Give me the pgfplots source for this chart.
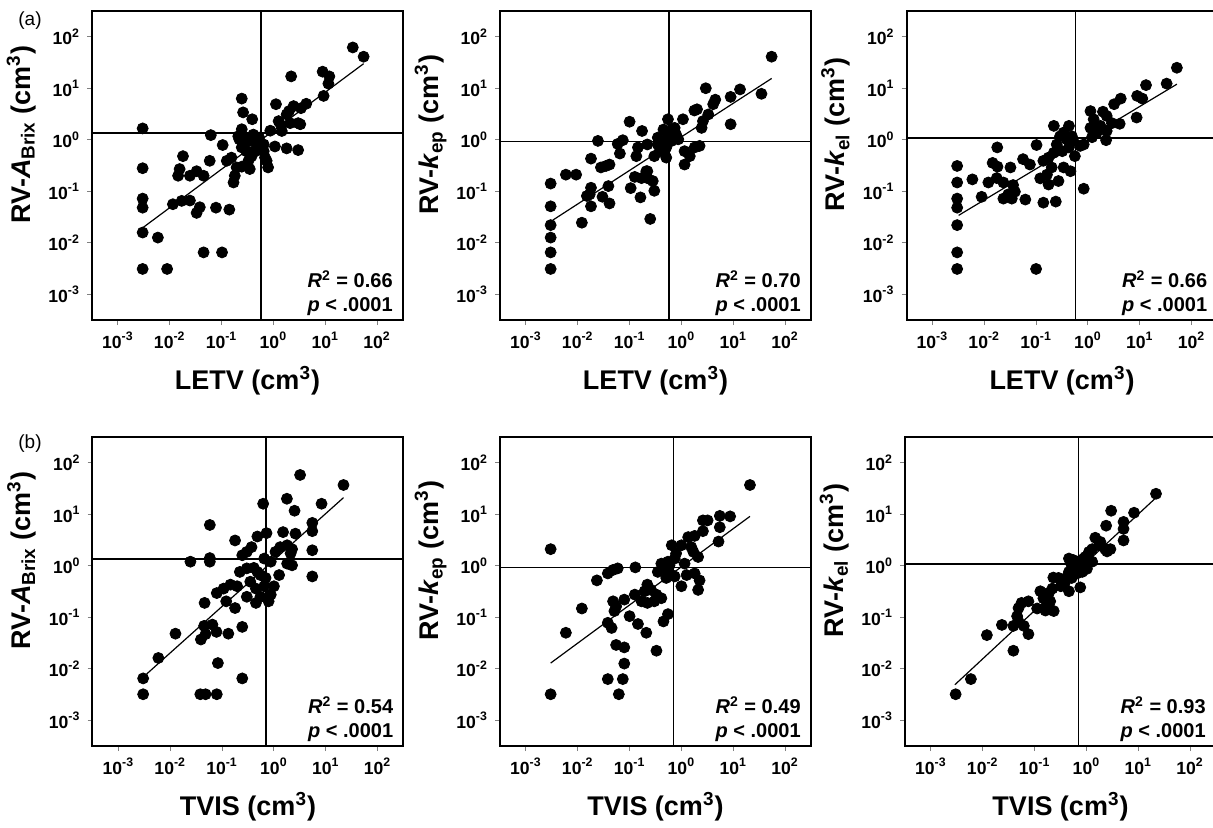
\documentclass[border=0pt]{standalone}
\usepackage{fontspec}
\setmainfont{Liberation Sans}
\usepackage{pgfplots}
\pgfplotsset{compat=1.18}
\pgfplotsset{
  tick align=outside,
  major tick length=2.5pt,
  every tick/.append style={gray, line width=0.5pt},
  axis line style={line width=1pt},
  tick label style={font=\fontsize{8.8}{10}\selectfont},
  label style={font=\fontsize{13.5}{15}\selectfont\bfseries},
  xlabel style={at={(axis description cs:0.5,-0.225)}, anchor=base},
  ylabel style={at={(axis description cs:-0.198,0.6)}, anchor=base},
}
\begin{document}
\begin{tikzpicture}
\useasboundingbox (0pt,0pt) rectangle (606.5pt,413.5pt);
\clip (0pt,0pt) rectangle (606.5pt,413.5pt);
\node[font=\fontsize{9.5}{11}\selectfont] at (15pt,403pt) {(a)};
\node[font=\fontsize{9.5}{11}\selectfont] at (15pt,191.5pt) {(b)};

% ---------- Panel 1 ----------
\begin{axis}[scale only axis, width=155.5pt, height=154.5pt, anchor=south west, at={(46pt,253.5pt)},
  xmode=log, ymode=log, xmin=3.1623e-4, xmax=316.23, ymin=3.1623e-4, ymax=316.23,
  xtick={1e-3,1e-2,1e-1,1,10,100}, ytick={1e-3,1e-2,1e-1,1,10,100},
  xticklabels={\textbf{10\textsuperscript{-3}},\textbf{10\textsuperscript{-2}},\textbf{10\textsuperscript{-1}},\textbf{10\textsuperscript{0}},\textbf{10\textsuperscript{1}},\textbf{10\textsuperscript{2}}},
  yticklabels={\textbf{10\textsuperscript{-3}},\textbf{10\textsuperscript{-2}},\textbf{10\textsuperscript{-1}},\textbf{10\textsuperscript{0}},\textbf{10\textsuperscript{1}},\textbf{10\textsuperscript{2}}},
  xminorticks=false, yminorticks=false, xtick pos=left, ytick pos=left,
  xlabel={LETV (cm\textsuperscript{3})},
  ylabel={RV-\textit{A}\textsubscript{Brix} (cm\textsuperscript{3})}]
\addplot[black, line width=0.8pt, no marks] coordinates {(0.58,1e-4) (0.58,1e3)};
\addplot[black, line width=0.8pt, no marks] coordinates {(1e-4,1.35) (1e3,1.35)};
\addplot[only marks, mark=*, mark size=2.75pt, mark options={fill=black, draw=black}] coordinates {
(34,62) (55,41) (8.9,21) (2.2,17) (12,17) (11.5,12.3) (9.3,7.1) (4.3,5.0) (1.12,4.9) (2.45,4.5)
(2.0,3.6) (1.8,3.1) (3.4,4.1) (0.245,6.3) (0.26,3.4) (0.39,2.5) (1.26,2.3) (0.87,1.5) (1.4,1.9) (2.1,2.1)
(3.0,2.1) (3.3,2.0) (0.003,1.66) (0.062,1.23) (0.105,0.79) (0.245,1.6) (0.22,1.02) (0.30,1.1) (0.35,0.95) (0.41,1.26)
(0.48,0.81) (0.55,0.71) (0.245,0.71) (0.30,0.60) (0.38,0.48) (0.69,0.45) (0.79,0.29) (0.35,0.27) (0.245,0.30) (1.07,0.74)
(1.8,0.68) (3.0,0.63) (0.018,0.48) (0.059,0.39) (0.126,0.39) (0.155,0.45) (0.0155,0.27) (0.0145,0.20) (0.0245,0.20) (0.033,0.245)
(0.045,0.20) (0.18,0.20) (0.17,0.148) (0.003,0.28) (0.003,0.072) (0.003,0.048) (0.0115,0.056) (0.017,0.065) (0.0245,0.066) (0.038,0.049)
(0.033,0.038) (0.078,0.048) (0.141,0.044) (0.003,0.0158) (0.0059,0.0126) (0.045,0.0065) (0.102,0.0065) (0.003,0.0031) (0.0089,0.0031)
(0.21,1.17) (0.28,0.87) (0.45,0.60) (0.51,1.02) (0.65,0.60) (0.33,0.39) (0.195,0.29) (0.65,0.81) (1.45,1.48) (0.53,1.1) (0.74,0.39)
};
\addplot[black, line width=0.6pt, no marks] coordinates {(0.003,0.0195) (55,30)};
\node[anchor=base east, inner sep=0pt, font=\fontsize{10}{12}\selectfont\bfseries] at (rel axis cs:0.968,0.105) {\textit{R}\textsuperscript{2} = 0.66};
\node[anchor=base east, inner sep=0pt, font=\fontsize{10}{12}\selectfont\bfseries] at (rel axis cs:0.968,0.028) {\textit{p} < .0001};
\end{axis}

% ---------- Panel 2 ----------
\begin{axis}[scale only axis, width=155.5pt, height=154.5pt, anchor=south west, at={(250pt,253.5pt)},
  xmode=log, ymode=log, xmin=3.1623e-4, xmax=316.23, ymin=3.1623e-4, ymax=316.23,
  xtick={1e-3,1e-2,1e-1,1,10,100}, ytick={1e-3,1e-2,1e-1,1,10,100},
  xticklabels={\textbf{10\textsuperscript{-3}},\textbf{10\textsuperscript{-2}},\textbf{10\textsuperscript{-1}},\textbf{10\textsuperscript{0}},\textbf{10\textsuperscript{1}},\textbf{10\textsuperscript{2}}},
  yticklabels={\textbf{10\textsuperscript{-3}},\textbf{10\textsuperscript{-2}},\textbf{10\textsuperscript{-1}},\textbf{10\textsuperscript{0}},\textbf{10\textsuperscript{1}},\textbf{10\textsuperscript{2}}},
  xminorticks=false, yminorticks=false, xtick pos=left, ytick pos=left,
  xlabel={LETV (cm\textsuperscript{3})},
  ylabel={RV-\textit{k}\textsubscript{ep} (cm\textsuperscript{3})}]
\addplot[black, line width=0.8pt, no marks] coordinates {(0.58,1e-4) (0.58,1e3)};
\addplot[black, line width=0.8pt, no marks] coordinates {(1e-4,0.92) (1e3,0.92)};
\addplot[only marks, mark=*, mark size=2.75pt, mark options={fill=black, draw=black}] coordinates {
(55,41) (2.95,10) (8.9,6.8) (13.5,9.5) (35,7.8) (4.5,6.0) (4.1,4.9) (1.78,3.7) (2.0,3.9) (3.3,3.1)
(2.6,2.3) (2.45,1.7) (8.9,2.0) (1.07,2.5) (0.55,2.5) (0.74,1.7) (0.45,1.58) (0.79,1.26) (0.10,2.24) (0.174,1.48)
(0.0245,0.95) (0.074,0.98) (0.059,0.83) (0.145,0.71) (0.22,0.81) (0.35,1.1) (0.41,0.95) (0.51,0.71) (0.38,0.60) (0.51,0.45)
(0.30,0.48) (0.65,0.95) (0.87,1.02) (1.15,0.60) (1.8,0.71) (2.24,0.76) (1.45,0.48) (1.15,0.33) (0.018,0.43) (0.028,0.29)
(0.035,0.31) (0.041,0.33) (0.065,0.54) (0.135,0.48) (0.0059,0.21) (0.0093,0.21) (0.003,0.141) (0.018,0.117) (0.017,0.087) (0.039,0.126)
(0.015,0.081) (0.030,0.078) (0.041,0.058) (0.105,0.115) (0.126,0.19) (0.17,0.18) (0.21,0.245) (0.22,0.18) (0.28,0.158) (0.30,0.102)
(0.162,0.076) (0.018,0.051) (0.003,0.051) (0.012,0.0245) (0.25,0.029) (0.003,0.022) (0.003,0.0126) (0.003,0.0065) (0.003,0.0031)
(0.35,0.81) (0.45,0.60) (0.55,1.26) (0.22,0.245)
};
\addplot[black, line width=0.6pt, no marks] coordinates {(0.0033,0.0275) (55,15.5)};
\node[anchor=base east, inner sep=0pt, font=\fontsize{10}{12}\selectfont\bfseries] at (rel axis cs:0.968,0.105) {\textit{R}\textsuperscript{2} = 0.70};
\node[anchor=base east, inner sep=0pt, font=\fontsize{10}{12}\selectfont\bfseries] at (rel axis cs:0.968,0.028) {\textit{p} < .0001};
\end{axis}

% ---------- Panel 3 ----------
\begin{axis}[scale only axis, width=155.5pt, height=154.5pt, anchor=south west, at={(453.25pt,253.5pt)},
  xmode=log, ymode=log, xmin=3.1623e-4, xmax=316.23, ymin=3.1623e-4, ymax=316.23,
  xtick={1e-3,1e-2,1e-1,1,10,100}, ytick={1e-3,1e-2,1e-1,1,10,100},
  xticklabels={\textbf{10\textsuperscript{-3}},\textbf{10\textsuperscript{-2}},\textbf{10\textsuperscript{-1}},\textbf{10\textsuperscript{0}},\textbf{10\textsuperscript{1}},\textbf{10\textsuperscript{2}}},
  yticklabels={\textbf{10\textsuperscript{-3}},\textbf{10\textsuperscript{-2}},\textbf{10\textsuperscript{-1}},\textbf{10\textsuperscript{0}},\textbf{10\textsuperscript{1}},\textbf{10\textsuperscript{2}}},
  xminorticks=false, yminorticks=false, xtick pos=left, ytick pos=left,
  xlabel={LETV (cm\textsuperscript{3})},
  ylabel={RV-\textit{k}\textsubscript{el} (cm\textsuperscript{3})}]
\addplot[black, line width=0.8pt, no marks] coordinates {(0.58,1e-4) (0.58,1e3)};
\addplot[black, line width=0.8pt, no marks] coordinates {(1e-4,1.08) (1e3,1.08)};
\addplot[only marks, mark=*, mark size=2.75pt, mark options={fill=black, draw=black}] coordinates {
(52,25) (33,12.3) (13.2,11.5) (8.9,7.1) (11.2,6.3) (4.3,6.3) (3.2,4.9) (8.7,2.7) (1.12,3.6) (1.95,3.5)
(2.3,2.9) (1.29,2.5) (1.74,1.86) (1.12,1.7) (4.1,2.04) (2.9,2.1) (2.3,1.48) (2.24,0.98) (1.48,1.38) (1.2,1.12)
(0.22,1.86) (0.43,1.86) (0.34,1.38) (0.29,1.17) (0.39,1.02) (0.49,1.17) (0.52,0.95) (0.71,0.76) (0.83,0.81) (0.43,0.71)
(0.25,0.81) (0.32,0.60) (0.22,0.56) (0.56,0.48) (0.102,0.79) (0.056,0.42) (0.076,0.33) (0.138,0.39) (0.174,0.45) (0.20,0.29)
(0.162,0.21) (0.12,0.178) (0.174,0.135) (0.27,0.158) (0.34,0.29) (0.46,0.245) (0.83,0.112) (0.0178,0.71) (0.0145,0.355) (0.018,0.30)
(0.032,0.29) (0.0174,0.18) (0.012,0.148) (0.0234,0.148) (0.036,0.132) (0.039,0.098) (0.029,0.087) (0.0234,0.072) (0.034,0.072) (0.062,0.069)
(0.003,0.31) (0.003,0.148) (0.0059,0.17) (0.003,0.072) (0.003,0.048) (0.0089,0.078) (0.138,0.060) (0.24,0.063) (0.003,0.022) (0.003,0.0065)
(0.003,0.0031) (0.10,0.0031)
};
\addplot[black, line width=0.6pt, no marks] coordinates {(0.0032,0.034) (52,12)};
\node[anchor=base east, inner sep=0pt, font=\fontsize{10}{12}\selectfont\bfseries] at (rel axis cs:0.968,0.105) {\textit{R}\textsuperscript{2} = 0.66};
\node[anchor=base east, inner sep=0pt, font=\fontsize{10}{12}\selectfont\bfseries] at (rel axis cs:0.968,0.028) {\textit{p} < .0001};
\end{axis}

% ---------- Panel 4 ----------
\begin{axis}[scale only axis, width=155.5pt, height=154.5pt, anchor=south west, at={(46.25pt,40.5pt)},
  xmode=log, ymode=log, xmin=3.1623e-4, xmax=316.23, ymin=3.1623e-4, ymax=316.23,
  xtick={1e-3,1e-2,1e-1,1,10,100}, ytick={1e-3,1e-2,1e-1,1,10,100},
  xticklabels={\textbf{10\textsuperscript{-3}},\textbf{10\textsuperscript{-2}},\textbf{10\textsuperscript{-1}},\textbf{10\textsuperscript{0}},\textbf{10\textsuperscript{1}},\textbf{10\textsuperscript{2}}},
  yticklabels={\textbf{10\textsuperscript{-3}},\textbf{10\textsuperscript{-2}},\textbf{10\textsuperscript{-1}},\textbf{10\textsuperscript{0}},\textbf{10\textsuperscript{1}},\textbf{10\textsuperscript{2}}},
  xminorticks=false, yminorticks=false, xtick pos=left, ytick pos=left,
  xlabel={TVIS (cm\textsuperscript{3})},
  ylabel={RV-\textit{A}\textsubscript{Brix} (cm\textsuperscript{3})}]
\addplot[black, line width=0.8pt, no marks] coordinates {(0.7,1e-4) (0.7,1e3)};
\addplot[black, line width=0.8pt, no marks] coordinates {(1e-4,1.35) (1e3,1.35)};
\addplot[only marks, mark=*, mark size=2.75pt, mark options={fill=black, draw=black}] coordinates {
(3.2,58) (22,37) (1.78,20) (8.3,16) (0.62,16) (2.5,11.7) (5.5,6.8) (0.058,6.2) (5.5,4.7) (0.178,3.1)
(0.48,3.7) (0.72,4.3) (1.5,4.5) (2.6,4.2) (0.37,2.3) (0.30,1.86) (0.245,1.6) (1.07,1.86) (1.32,2.3) (1.8,2.5)
(2.24,2.1) (2.1,1.74) (1.8,1.1) (2.24,1.02) (5.5,2.0) (0.0245,1.2) (0.058,1.2) (0.058,1.41) (0.65,1.38) (0.87,1.2)
(5.5,0.62) (1.26,0.66) (0.22,0.76) (0.30,0.89) (0.41,0.91) (0.48,0.76) (0.55,0.66) (0.69,0.58) (1.0,0.40) (0.35,0.49)
(0.45,0.36) (0.65,0.40) (0.30,0.25) (0.45,0.19) (0.55,0.25) (0.79,0.204) (0.87,0.275) (0.145,0.43) (0.107,0.36) (0.079,0.295)
(0.195,0.40) (0.046,0.19) (0.12,0.204) (0.178,0.151) (0.0126,0.048) (0.045,0.068) (0.065,0.072) (0.048,0.047) (0.078,0.052) (0.132,0.048)
(0.245,0.065) (0.039,0.037) (0.0059,0.0162) (0.083,0.0129) (0.003,0.0065) (0.245,0.0065) (0.003,0.0032) (0.038,0.0032) (0.048,0.0032) (0.079,0.0032)
};
\addplot[black, line width=0.6pt, no marks] coordinates {(0.0035,0.0079) (22,21)};
\node[anchor=base east, inner sep=0pt, font=\fontsize{10}{12}\selectfont\bfseries] at (rel axis cs:0.968,0.105) {\textit{R}\textsuperscript{2} = 0.54};
\node[anchor=base east, inner sep=0pt, font=\fontsize{10}{12}\selectfont\bfseries] at (rel axis cs:0.968,0.028) {\textit{p} < .0001};
\end{axis}

% ---------- Panel 5 ----------
\begin{axis}[scale only axis, width=155.5pt, height=154.5pt, anchor=south west, at={(250pt,40.5pt)},
  xmode=log, ymode=log, xmin=3.1623e-4, xmax=316.23, ymin=3.1623e-4, ymax=316.23,
  xtick={1e-3,1e-2,1e-1,1,10,100}, ytick={1e-3,1e-2,1e-1,1,10,100},
  xticklabels={\textbf{10\textsuperscript{-3}},\textbf{10\textsuperscript{-2}},\textbf{10\textsuperscript{-1}},\textbf{10\textsuperscript{0}},\textbf{10\textsuperscript{1}},\textbf{10\textsuperscript{2}}},
  yticklabels={\textbf{10\textsuperscript{-3}},\textbf{10\textsuperscript{-2}},\textbf{10\textsuperscript{-1}},\textbf{10\textsuperscript{0}},\textbf{10\textsuperscript{1}},\textbf{10\textsuperscript{2}}},
  xminorticks=false, yminorticks=false, xtick pos=left, ytick pos=left,
  xlabel={TVIS (cm\textsuperscript{3})},
  ylabel={RV-\textit{k}\textsubscript{ep} (cm\textsuperscript{3})}]
\addplot[black, line width=0.8pt, no marks] coordinates {(0.7,1e-4) (0.7,1e3)};
\addplot[black, line width=0.8pt, no marks] coordinates {(1e-4,0.92) (1e3,0.92)};
\addplot[only marks, mark=*, mark size=2.75pt, mark options={fill=black, draw=black}] coordinates {
(21,37) (2.6,7.6) (3.2,7.6) (5.5,9.3) (8.7,9.1) (5.5,5.6) (2.6,4.7) (1.35,3.6) (1.8,3.8) (5.2,2.95)
(0.65,2.5) (1.0,2.5) (1.55,2.3) (1.7,1.86) (2.1,1.48) (0.79,1.74) (0.74,1.38) (1.15,1.1) (0.41,1.1) (0.48,0.89)
(0.55,0.76) (0.65,0.66) (0.51,0.58) (0.74,0.62) (1.0,0.40) (1.26,0.66) (1.8,0.71) (2.24,0.52) (2.1,0.34) (0.35,0.76)
(0.22,0.43) (0.26,0.34) (0.33,0.275) (0.195,0.32) (0.17,0.204) (0.22,0.19) (0.30,0.204) (0.41,0.234) (0.126,0.275) (0.059,0.89)
(0.048,0.83) (0.038,0.71) (0.0234,0.52) (0.129,0.93) (0.003,2.1) (0.048,0.204) (0.055,0.162) (0.079,0.22) (0.051,0.132) (0.10,0.105)
(0.145,0.074) (0.038,0.078) (0.045,0.062) (0.55,0.115) (0.45,0.083) (0.012,0.148) (0.0059,0.050) (0.21,0.050) (0.055,0.029) (0.079,0.026)
(0.33,0.0224) (0.079,0.0126) (0.038,0.0063) (0.074,0.0063) (0.003,0.0032) (0.062,0.0032)
(0.55,1.2) (0.59,1.02)
};
\addplot[black, line width=0.6pt, no marks] coordinates {(0.003,0.0129) (21,9.1)};
\node[anchor=base east, inner sep=0pt, font=\fontsize{10}{12}\selectfont\bfseries] at (rel axis cs:0.968,0.105) {\textit{R}\textsuperscript{2} = 0.49};
\node[anchor=base east, inner sep=0pt, font=\fontsize{10}{12}\selectfont\bfseries] at (rel axis cs:0.968,0.028) {\textit{p} < .0001};
\end{axis}

% ---------- Panel 6 ----------
\begin{axis}[scale only axis, width=155.5pt, height=154.5pt, anchor=south west, at={(452.5pt,40.5pt)},
  xmode=log, ymode=log, xmin=3.1623e-4, xmax=316.23, ymin=3.1623e-4, ymax=316.23,
  xtick={1e-3,1e-2,1e-1,1,10,100}, ytick={1e-3,1e-2,1e-1,1,10,100},
  xticklabels={\textbf{10\textsuperscript{-3}},\textbf{10\textsuperscript{-2}},\textbf{10\textsuperscript{-1}},\textbf{10\textsuperscript{0}},\textbf{10\textsuperscript{1}},\textbf{10\textsuperscript{2}}},
  yticklabels={\textbf{10\textsuperscript{-3}},\textbf{10\textsuperscript{-2}},\textbf{10\textsuperscript{-1}},\textbf{10\textsuperscript{0}},\textbf{10\textsuperscript{1}},\textbf{10\textsuperscript{2}}},
  xminorticks=false, yminorticks=false, xtick pos=left, ytick pos=left,
  xlabel={TVIS (cm\textsuperscript{3})},
  ylabel={RV-\textit{k}\textsubscript{el} (cm\textsuperscript{3})}]
\addplot[black, line width=0.8pt, no marks] coordinates {(0.7,1e-4) (0.7,1e3)};
\addplot[black, line width=0.8pt, no marks] coordinates {(1e-4,1.08) (1e3,1.08)};
\addplot[only marks, mark=*, mark size=2.75pt, mark options={fill=black, draw=black}] coordinates {
(22,25) (3.0,11.7) (8.3,10.7) (5.2,7.1) (5.2,5.2) (2.4,6.0) (5.2,3.1) (1.48,3.5) (1.86,2.9) (2.3,2.1)
(2.5,1.9) (1.29,2.1) (1.12,1.86) (0.95,1.48) (1.29,1.2) (0.89,1.02) (0.71,1.2) (0.56,1.29) (0.46,1.38) (0.52,1.02)
(0.62,0.89) (0.83,0.76) (1.02,0.87) (0.66,0.71) (0.46,0.76) (0.43,0.62) (0.52,0.58) (0.39,0.49) (0.23,0.59) (0.29,0.58)
(0.32,0.40) (0.46,0.32) (0.76,0.38) (0.22,0.36) (0.19,0.30) (0.129,0.32) (0.148,0.234) (0.174,0.174) (0.234,0.132) (0.20,0.204)
(0.162,0.135) (0.112,0.148) (0.076,0.204) (0.056,0.19) (0.049,0.151) (0.046,0.105) (0.049,0.083) (0.039,0.068) (0.062,0.068) (0.076,0.047)
(0.0234,0.071) (0.012,0.045) (0.039,0.0224) (0.0059,0.0063) (0.003,0.0032)
(0.56,0.76) (0.89,1.38) (1.74,2.5) (2.9,2.1)
};
\addplot[black, line width=0.6pt, no marks] coordinates {(0.0029,0.0049) (22,21)};
\node[anchor=base east, inner sep=0pt, font=\fontsize{10}{12}\selectfont\bfseries] at (rel axis cs:0.968,0.105) {\textit{R}\textsuperscript{2} = 0.93};
\node[anchor=base east, inner sep=0pt, font=\fontsize{10}{12}\selectfont\bfseries] at (rel axis cs:0.968,0.028) {\textit{p} < .0001};
\end{axis}
\end{tikzpicture}
\end{document}
